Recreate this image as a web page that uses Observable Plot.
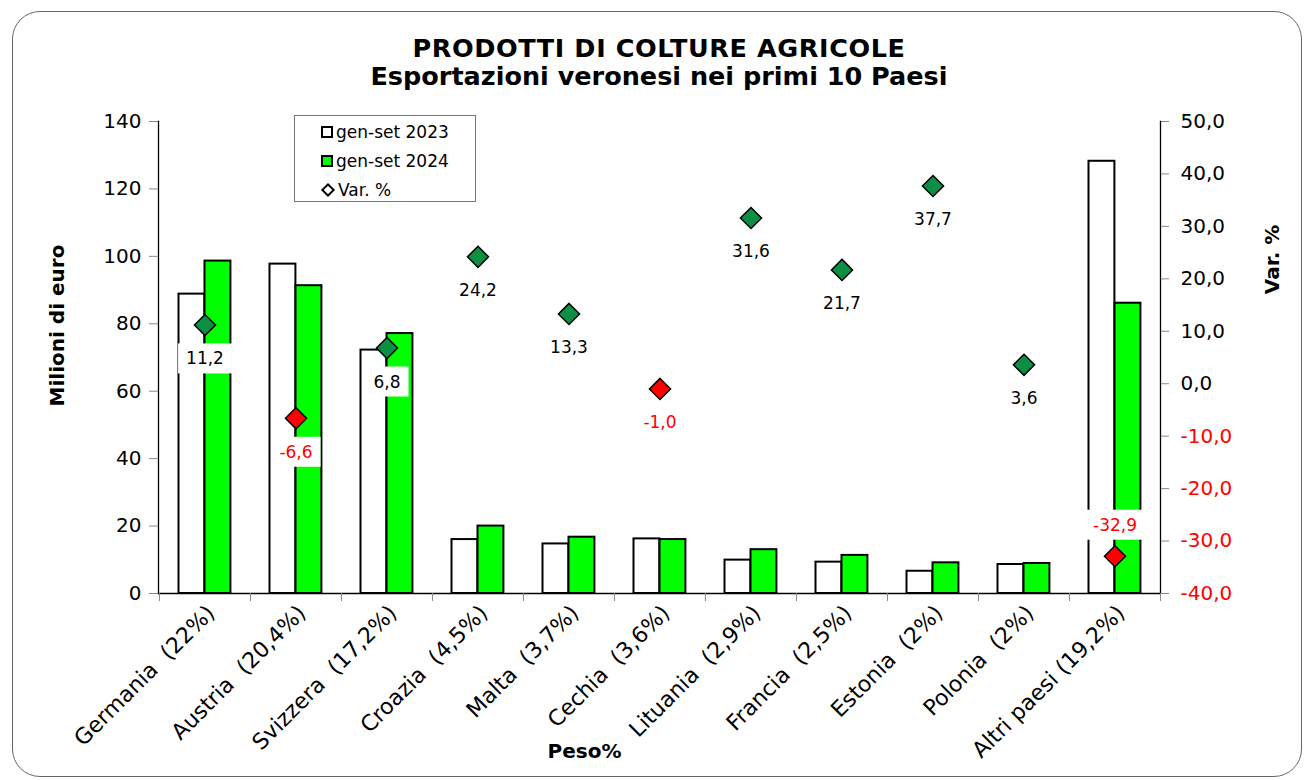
<!DOCTYPE html>
<html><head><meta charset="utf-8">
<script src="https://cdn.jsdelivr.net/npm/d3@7"></script>
<script src="https://cdn.jsdelivr.net/npm/@observablehq/plot@0.6"></script>
<style>
body{margin:0;background:#fff;font-family:"DejaVu Sans",sans-serif;}
#wrap{position:relative;width:1304px;height:780px;overflow:hidden;background:#fff;}
#frame{position:absolute;left:12px;top:11px;width:1290px;height:766px;border:1.5px solid #666;border-radius:28px;box-sizing:border-box;pointer-events:none;}
#title{position:relative;height:100px;box-sizing:border-box;padding-top:34px;margin-left:158px;width:1002px;text-align:center;font-weight:bold;font-size:25.5px;line-height:28px;color:#000;}
#title .l1{letter-spacing:0.6px;}
svg text{white-space:pre;}
#legend{position:absolute;left:294px;top:115px;width:182px;height:87px;box-sizing:border-box;border:1px solid #777;background:#fff;font-size:17px;color:#000;}
.item{position:absolute;left:26px;height:20px;line-height:20px;display:flex;align-items:center;white-space:nowrap;}
.sq{width:8px;height:8px;border:2px solid #000;margin-right:3px;}
.dm{width:6px;height:6px;border:2px solid #000;background:#fff;transform:rotate(45deg);margin:0 5px 0 2px;}
</style>
</head><body>
<div id="wrap">
  <div id="frame"></div>
  <div id="title"><span class="l1">PRODOTTI DI COLTURE AGRICOLE</span><br>Esportazioni veronesi nei primi 10 Paesi</div>
  <div id="chart"></div>
  <div id="legend">
    <div class="item" style="top:6px"><div class="sq" style="background:#fff"></div>gen-set 2023</div>
    <div class="item" style="top:35px"><div class="sq" style="background:#00ff00"></div>gen-set 2024</div>
    <div class="item" style="top:64px"><div class="dm"></div>Var. %</div>
  </div>
</div>
<script>
const categories = ["Germania  (22%)", "Austria  (20,4%)", "Svizzera  (17,2%)", "Croazia  (4,5%)", "Malta  (3,7%)", "Cechia  (3,6%)", "Lituania  (2,9%)", "Francia  (2,5%)", "Estonia  (2%)", "Polonia  (2%)", "Altri paesi (19,2%)"];
const values2023 = [88.8, 97.7, 72.2, 16.0, 14.7, 16.2, 9.9, 9.3, 6.6, 8.6, 128.2];
const values2024 = [98.6, 91.3, 77.1, 20.0, 16.7, 16.0, 13.0, 11.3, 9.1, 8.9, 86.1];
const varPct = [11.2, -6.6, 6.8, 24.2, 13.3, -1.0, 31.6, 21.7, 37.7, 3.6, -32.9];
const leftTicks = [0, 20, 40, 60, 80, 100, 120, 140];
const rightTicks = [-40, -30, -20, -10, 0, 10, 20, 30, 40, 50];

const yMax = 140, varMin = -40, varMax = 50;
const toLeft = v => (v - varMin) * yMax / (varMax - varMin);
const fromLeft = y => y * (varMax - varMin) / yMax + varMin;
const fmt = v => (Math.round(v * 10) / 10).toFixed(1).replace(".", ",");

const rows = categories.map((c, i) => ({country: c, a: values2023[i], b: values2024[i], v: varPct[i]}));

const W = 1304, H = 680, mL = 158, mR = 144, mT = 21, mB = 187;
const bw = (W - mL - mR) / categories.length;
const green = "#00ff00", dkgreen = "#0b8f45", red = "#ff0000";

const plot = Plot.plot({
  width: W, height: H,
  marginLeft: mL, marginRight: mR, marginTop: mT, marginBottom: mB,
  style: {fontFamily: "DejaVu Sans", fontSize: "20px", color: "#000", background: "transparent", overflow: "visible"},
  x: {domain: categories, padding: 0},
  y: {domain: [0, yMax]},
  marks: [
    Plot.barY(rows, {x: "country", y: "a", fill: "white", stroke: "black", strokeWidth: 2, insetLeft: 19.5, insetRight: bw - 45.5}),
    Plot.barY(rows, {x: "country", y: "b", fill: green, stroke: "black", strokeWidth: 2, insetLeft: 45.5, insetRight: bw - 71.5}),
    Plot.ruleY([0], {stroke: "black", strokeWidth: 1.5}),
    Plot.frame({anchor: "left", stroke: "black", strokeWidth: 1.3}),
    Plot.frame({anchor: "right", stroke: "black", strokeWidth: 1.3}),
    Plot.axisY({anchor: "left", ticks: leftTicks, tickSize: 9, tickPadding: 8, stroke: "#888", fill: "black", fontSize: 20, label: null}),
    Plot.axisY({anchor: "right", ticks: rightTicks.filter(t => t >= 0).map(toLeft), tickFormat: d => fmt(fromLeft(d)), tickSize: 8, tickPadding: 12, stroke: "#888", fill: "black", fontSize: 20, label: null}),
    Plot.axisY({anchor: "right", ticks: rightTicks.filter(t => t < 0).map(toLeft), tickFormat: d => fmt(fromLeft(d)), tickSize: 8, tickPadding: 12, stroke: "#888", fill: red, fontSize: 20, label: null}),
    Plot.axisX({anchor: "bottom", tickSize: 8, tickFormat: () => "", stroke: "#888", dx: -bw / 2, label: null}),
    Plot.axisX({anchor: "bottom", ticks: [categories[categories.length - 1]], tickSize: 8, tickFormat: () => "", stroke: "#888", dx: bw / 2, label: null}),
    Plot.axisX({anchor: "bottom", tickSize: 0, tickRotate: -45, tickPadding: 10, dx: 6, dy: 6, fontSize: 22, fill: "black", label: null}),
    Plot.text(rows, {filter: d => toLeft(d.v) >= 20, x: "country", y: d => toLeft(d.v), text: d => fmt(d.v), dy: 34, fill: d => d.v < 0 ? red : "black", fontSize: 17, className: "vlabel"}),
    Plot.text(rows, {filter: d => toLeft(d.v) < 20, x: "country", y: d => toLeft(d.v), text: d => fmt(d.v), dy: -31, fill: d => d.v < 0 ? red : "black", fontSize: 17, className: "vlabel"}),
    Plot.dot(rows, {x: "country", y: d => toLeft(d.v), symbol: "diamond2", r: 9.5, fill: d => d.v < 0 ? red : dkgreen, stroke: "black", strokeWidth: 1.5}),
    Plot.text(["Milioni di euro"], {text: d => d, frameAnchor: "left", textAnchor: "middle", dx: -101, dy: -32, rotate: -90, fontWeight: "bold", fontSize: 20}),
    Plot.text(["Var. %"], {text: d => d, frameAnchor: "right", textAnchor: "middle", dx: 112, dy: -98, rotate: -90, fontWeight: "bold", fontSize: 20}),
    Plot.text(["Peso%"], {text: d => d, frameAnchor: "bottom", dx: -75, dy: 164, fontWeight: "bold", fontSize: 20})
  ]
});
document.getElementById("chart").appendChild(plot);

// white boxes behind the value labels
document.querySelectorAll(".vlabel").forEach(g => {
  g.querySelectorAll("text").forEach(t => {
    const b = t.getBBox();
    const r = document.createElementNS("http://www.w3.org/2000/svg", "rect");
    r.setAttribute("x", b.x - 8);
    r.setAttribute("y", b.y - 5);
    r.setAttribute("width", b.width + 16);
    r.setAttribute("height", b.height + 10);
    r.setAttribute("fill", "white");
    const tr = t.getAttribute("transform");
    if (tr) r.setAttribute("transform", tr);
    t.parentNode.insertBefore(r, t);
  });
});
</script>
</body></html>
